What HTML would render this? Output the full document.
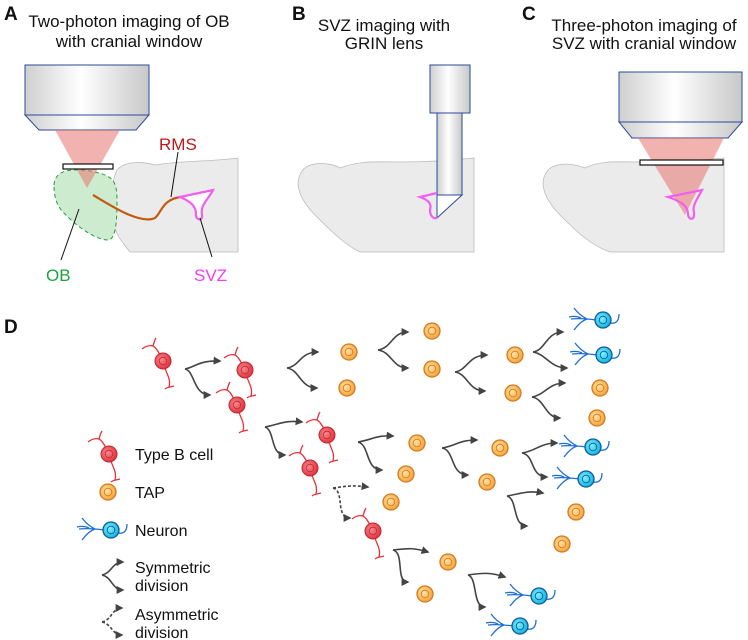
<!DOCTYPE html>
<html><head><meta charset="utf-8"><style>
html,body{margin:0;padding:0;background:#fff;}
svg{display:block;font-family:"Liberation Sans",Arial,sans-serif;}
</style></head><body>
<svg width="748" height="640" viewBox="0 0 748 640" xmlns="http://www.w3.org/2000/svg">
<defs>
<linearGradient id="obj" x1="0" x2="1" y1="0" y2="0">
<stop offset="0" stop-color="#cfcfcf"/><stop offset="0.45" stop-color="#ffffff"/><stop offset="1" stop-color="#c8c8c8"/>
</linearGradient>
<radialGradient id="rg" cx="0.4" cy="0.4" r="0.6"><stop offset="0" stop-color="#f48a8f"/><stop offset="1" stop-color="#e0353f"/></radialGradient>
<radialGradient id="og" cx="0.4" cy="0.4" r="0.6"><stop offset="0" stop-color="#fde3a5"/><stop offset="1" stop-color="#f3a640"/></radialGradient>
<radialGradient id="cg" cx="0.4" cy="0.4" r="0.6"><stop offset="0" stop-color="#7ff0ff"/><stop offset="1" stop-color="#11b8dc"/></radialGradient>
<marker id="ah" viewBox="0 0 10 10" refX="8" refY="5" markerWidth="5" markerHeight="5" orient="auto"><path d="M0,0 L10,5 L0,10 z" fill="#444"/></marker>
<g id="tb">
<path d="M-3,-6 C-6,-12 -8,-14 -10,-15 M-10,-15 C-14,-16 -17,-15 -21,-12 M-10,-15 C-9,-18 -9,-20 -7,-23 M2,7 C4,14 8,18 6,26 M2,28 C4,26 8,26 11,25" stroke="#e8303a" stroke-width="1.3" fill="none"/>
<circle r="8" fill="url(#rg)" stroke="#c42831" stroke-width="1"/>
<circle r="3.8" fill="none" stroke="#c42831" stroke-width="0.8"/>
</g>
<g id="tap">
<circle r="8" fill="url(#og)" stroke="#d87a1c" stroke-width="1.3"/>
<circle r="3.8" fill="none" stroke="#d87a1c" stroke-width="0.9"/>
</g>
<g id="nr">
<path d="M-7,0 C-14,-1 -22,-2 -32,-1 M-16,-1 C-22,1 -26,6 -29,10 M-16,-1 C-22,-4 -26,-8 -29,-12 M-22,-2 C-26,-4 -30,-4 -34,-3 M7,3 C12,4 16,2 16,-6" stroke="#1f6fd6" stroke-width="1.3" fill="none"/>
<circle r="8" fill="url(#cg)" stroke="#16579e" stroke-width="1.3"/>
<circle r="3.8" fill="none" stroke="#16579e" stroke-width="0.9"/>
</g>
</defs>

<!-- Titles -->
<g font-size="17" fill="#111">
<text x="4" y="20" font-weight="bold" font-size="19">A</text>
<text x="129" y="27" text-anchor="middle">Two-photon imaging of OB</text>
<text x="129" y="47" text-anchor="middle">with cranial window</text>
<text x="292" y="20" font-weight="bold" font-size="19">B</text>
<text x="384" y="31" text-anchor="middle">SVZ imaging with</text>
<text x="384" y="49" text-anchor="middle">GRIN lens</text>
<text x="522" y="20" font-weight="bold" font-size="19">C</text>
<text x="644" y="31" text-anchor="middle">Three-photon imaging of</text>
<text x="644" y="49" text-anchor="middle">SVZ with cranial window</text>
<text x="4" y="333" font-weight="bold" font-size="19">D</text>
</g>

<!-- Panel A -->
<path d="M117,170 C125,160 145,162 155,165 C185,160 210,162 238,158 L238,252 L130,252 C120,240 112,230 112,210 C112,190 112,180 117,170 z" fill="#ebebeb" stroke="#bbb" stroke-width="0.8"/>
<path d="M54,185 C55,168 75,168 95,172 C112,176 117,180 117,200 C117,220 116,240 108,240 C95,240 75,225 63,212 C56,205 54,195 54,185 z" fill="#cdeccf" stroke="#2a9a3a" stroke-width="1" stroke-dasharray="4,3"/>
<path d="M25,65 L149,65 L149,115 L25,115 z" fill="url(#obj)" stroke="#2a4a9a" stroke-width="1"/>
<path d="M25,115 L149,115 L136,130 L39,130 z" fill="url(#obj)" stroke="#2a4a9a" stroke-width="1"/>
<path d="M55,130 L120,130 L87,188 z" fill="#e8756f" opacity="0.55"/>
<rect x="63" y="164" width="50" height="5" fill="#fff" stroke="#111" stroke-width="1.2"/>
<path d="M93,195 C110,205 140,225 155,218 C162,212 162,200 180,197" stroke="#c45a10" stroke-width="2.2" fill="none"/>
<path d="M180,197 L213,190 C208,200 200,205 202,215 C203,222 195,220 196,214 C196,207 192,202 180,197 z" fill="#fff" stroke="#f25ef2" stroke-width="2.2"/>
<line x1="171" y1="197" x2="178" y2="152" stroke="#111" stroke-width="1"/>
<text x="159" y="150" font-size="17" fill="#c01818">RMS</text>
<line x1="79" y1="209" x2="61" y2="260" stroke="#111" stroke-width="1"/>
<text x="46" y="281" font-size="17" fill="#20a040">OB</text>
<line x1="200" y1="218" x2="212" y2="257" stroke="#111" stroke-width="1"/>
<text x="194" y="281" font-size="17" fill="#f23cf2">SVZ</text>

<!-- Panel B -->
<path d="M300,175 C305,160 330,162 340,168 C360,160 380,162 400,162 C430,162 455,160 474,158 L474,252 L360,252 C345,245 330,230 315,215 C300,200 295,185 300,175 z" fill="#ebebeb" stroke="#bbb" stroke-width="0.8"/>
<path d="M430,65 L470,65 L470,113 L430,113 z" fill="url(#obj)" stroke="#2a4a9a" stroke-width="1"/>
<path d="M437,113 L462,113 L462,195 L437,195 z" fill="url(#obj)" stroke="#2a4a9a" stroke-width="1"/>
<path d="M437,195 L462,195 L437,218 z" fill="#fff" stroke="#2a4a9a" stroke-width="1"/>
<path d="M437,193 L420,197 C428,200 432,203 430,210 C430,218 436,220 437,217" fill="none" stroke="#f25ef2" stroke-width="2.2"/>

<!-- Panel C -->
<path d="M545,175 C550,162 570,162 585,168 C600,160 620,162 640,162 C680,162 700,160 724,158 L724,252 L610,252 C590,245 575,230 560,215 C545,200 540,185 545,175 z" fill="#ebebeb" stroke="#bbb" stroke-width="0.8"/>
<path d="M619,72 L742,72 L742,122 L619,122 z" fill="url(#obj)" stroke="#2a4a9a" stroke-width="1"/>
<path d="M619,122 L742,122 L728,138 L632,138 z" fill="url(#obj)" stroke="#2a4a9a" stroke-width="1"/>
<path d="M638,138 L724,138 L685,215 z" fill="#e8756f" opacity="0.55"/>
<rect x="640" y="160" width="83" height="5" fill="#fff" stroke="#111" stroke-width="1.2"/>
<path d="M668,197 L702,190 C697,200 692,205 694,213 C695,221 688,220 688,214 C688,207 683,202 668,197 z" fill="none" stroke="#f25ef2" stroke-width="2.2"/>

<!-- Panel D cells -->
<use href="#tb" x="163" y="361"/><use href="#tb" x="245" y="370"/><use href="#tb" x="237" y="405"/>
<use href="#tb" x="327" y="435"/><use href="#tb" x="310" y="468"/><use href="#tb" x="373" y="531"/>
<use href="#tb" x="109" y="454"/>
<use href="#tap" x="349" y="352"/><use href="#tap" x="347" y="388"/><use href="#tap" x="432" y="331"/><use href="#tap" x="432" y="369"/>
<use href="#tap" x="515" y="355"/><use href="#tap" x="513" y="393"/><use href="#tap" x="600" y="388"/><use href="#tap" x="597" y="418"/>
<use href="#tap" x="417" y="443"/><use href="#tap" x="406" y="474"/><use href="#tap" x="391" y="502"/>
<use href="#tap" x="500" y="448"/><use href="#tap" x="487" y="482"/><use href="#tap" x="576" y="512"/><use href="#tap" x="562" y="544"/>
<use href="#tap" x="448" y="562"/><use href="#tap" x="425" y="594"/>
<use href="#tap" x="108" y="492"/>
<use href="#nr" x="603" y="320"/><use href="#nr" x="604" y="355"/><use href="#nr" x="593" y="447"/><use href="#nr" x="586" y="479"/>
<use href="#nr" x="539" y="596"/><use href="#nr" x="520" y="626"/><use href="#nr" x="111" y="530"/>

<!-- Forks -->
<g stroke="#444" stroke-width="1.6" fill="none" marker-end="url(#ah)">
<path d="M185,369 C195,367 200,360 220,361"/><path d="M185,369 C195,371 193,395 210,395"/>
<path d="M287,368 C300,366 300,352 318,352"/><path d="M287,368 C300,370 300,388 317,388"/>
<path d="M378,350 C392,348 392,332 408,332"/><path d="M378,350 C392,352 392,368 408,368"/>
<path d="M265,427 C280,424 285,420 302,422"/><path d="M265,427 C275,430 270,455 285,455"/>
<path d="M358,442 C372,440 375,435 393,436"/><path d="M358,442 C370,445 365,470 382,470"/>
<path d="M393,550 C410,548 415,548 428,552"/><path d="M393,550 C405,553 395,582 408,582"/>
<path d="M455,372 C468,370 468,355 487,355"/><path d="M455,372 C468,374 468,391 485,391"/>
<path d="M533,352 C546,350 546,332 563,332"/><path d="M533,352 C546,354 550,368 567,368"/>
<path d="M532,397 C545,395 548,383 565,383"/><path d="M532,397 C545,399 545,418 560,418"/>
<path d="M442,448 C456,446 458,440 477,440"/><path d="M442,448 C455,450 450,475 468,475"/>
<path d="M522,453 C536,451 540,443 557,443"/><path d="M522,453 C535,455 530,477 547,477"/>
<path d="M507,496 C520,494 528,490 543,493"/><path d="M507,496 C518,499 512,526 527,526"/>
<path d="M468,575 C482,573 490,572 505,577"/><path d="M468,575 C478,578 472,607 485,607"/>
<path d="M102,575 C112,573 112,562 123,562"/><path d="M102,575 C112,577 112,590 123,590"/>
</g>
<g stroke="#444" stroke-width="1.6" fill="none" stroke-dasharray="3,2" marker-end="url(#ah)">
<path d="M333,488 C348,486 352,485 368,487"/><path d="M333,488 C345,491 335,518 350,518"/>
<path d="M102,622 C112,620 112,608 122,608"/><path d="M102,622 C112,624 112,635 122,635"/>
</g>

<!-- Legend text -->
<g font-size="16" fill="#111">
<text x="135" y="460">Type B cell</text>
<text x="135" y="498">TAP</text>
<text x="135" y="536">Neuron</text>
<text x="135" y="573">Symmetric</text>
<text x="135" y="591">division</text>
<text x="135" y="620">Asymmetric</text>
<text x="135" y="638">division</text>
</g>
</svg>
</body></html>
